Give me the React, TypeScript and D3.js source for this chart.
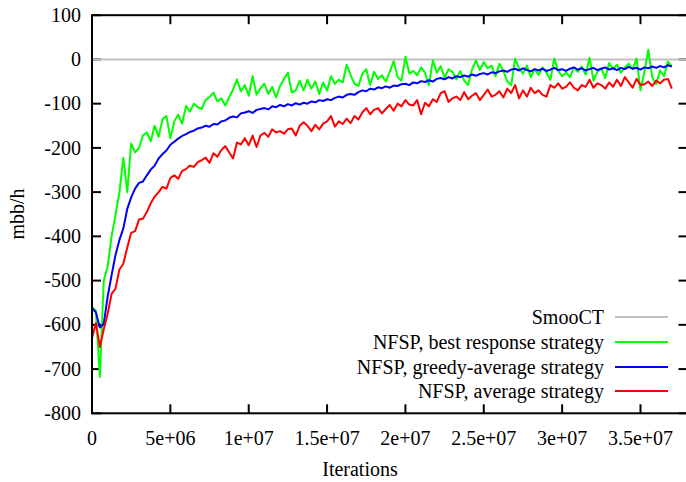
import React, { useEffect, useRef } from "react";
import * as d3 from "d3";

// sampling grid: one point every 250k iterations
const iterStep = 250000;

// NFSP, best response strategy (green)
const bestResponse = [
  -560, -568, -718, -500, -468, -400, -352, -300, -222, -300,
  -190, -210, -200, -172, -165, -185, -150, -175, -135, -128,
  -178, -140, -125, -145, -105, -118, -100, -108, -112,
  -92, -85, -75, -95, -88, -104, -86, -68, -45, -72, -58,
  -82, -38, -80, -65, -55, -78, -62, -86, -60, -44, -30, -75, -70,
  -48, -70, -46,
  -66, -50, -78, -52, -70, -38, -55, -46, -52, -12, -35, -55, -60,
  -32, -22, -58, -28, -44, -36, -50, -28, -4, -40, -48, 6, -32,
  -26, -36, -18, -30, -58, -2, -30, -15, -42, -22, -28, -45, -26, -48,
  -58, -22, -2, -24, -6, -20, -14, -38, -10, -26, -50, -58, 2, -20,
  -32, -14, -40, -22, -35, -18, -30, -46, 2, -26,
  -38, -30, -40, -18, -28, -16, -34, 4, -48, -28,
  -20, -42, -8, -22, -12, -30, -18, -10, -22, 2,
  -70, -28, 22, -40, -56, -25, -38, -5, -15,
];

// NFSP, greedy-average strategy (blue)
const greedyAverage = [
  -562, -572, -606, -598, -536, -488, -442, -408, -382, -338,
  -312, -292, -279, -276, -262, -249, -240, -224, -214, -206,
  -193, -186, -179, -173, -169, -164, -161, -156, -154, -150,
  -152, -146, -147, -140, -138, -132, -129, -131, -122, -120,
  -117, -121, -114, -112, -110, -113, -106, -108, -103, -106,
  -101, -104, -99, -102, -98, -100, -95, -97, -92, -94,
  -90, -92, -87, -84, -86, -80, -78, -80, -74, -70,
  -72, -66, -68, -63, -65, -61, -64, -59, -60, -56,
  -55, -58, -52, -54, -49, -51, -47, -50, -44, -42,
  -45, -40, -43, -38, -40, -36, -39, -34, -37, -33,
  -31, -34, -29, -31, -27, -25, -28, -23, -21, -25,
  -20, -24, -27, -22, -25, -21, -26, -23, -19, -24,
  -22, -26, -21, -18, -23, -20, -25, -22, -19, -24,
  -21, -18, -23, -20, -24, -19, -22, -17, -21, -19,
  -23, -18, -20, -16, -19, -15, -18, -13, -16,
];

// NFSP, average strategy (red)
const averageStrategy = [
  -630, -596, -650, -610, -575, -530, -518, -475, -462, -425,
  -392, -388, -362, -360, -345, -325, -310, -300, -288, -292,
  -268, -262, -270, -252, -248, -240, -243, -232,
  -228, -222, -234, -212, -220, -205, -196, -210, -224, -188,
  -192, -178, -194, -172, -198, -172, -166, -175, -158, -165,
  -162, -168, -158, -156, -172, -150, -142,
  -150, -162, -148, -158, -145, -140, -128, -152, -140, -146,
  -134, -144, -128, -136, -120, -110, -124, -114, -110, -122,
  -112, -103, -116, -100, -106, -92, -102,
  -104, -92, -124, -98, -106, -90, -96, -76, -72, -96,
  -88, -84, -92, -74, -90, -82, -76, -92, -80, -68,
  -84, -80, -72, -86, -66, -76, -58,
  -88, -70, -84, -64, -76, -70, -80, -84, -58, -64,
  -54, -66, -62, -52, -64, -70, -58, -62, -46, -64, -54,
  -58, -66, -52, -62, -46, -60, -40, -52, -64, -44,
  -58, -56, -50, -60, -48, -54, -46, -44, -66,
];

// SmooCT reference level
const smooctLevel = 0;

const yTicks = [100, 0, -100, -200, -300, -400, -500, -600, -700, -800];
const xTicks = [0, 5e6, 1e7, 1.5e7, 2e7, 2.5e7, 3e7, 3.5e7];
const xTickLabels = ["0", "5e+06", "1e+07", "1.5e+07", "2e+07", "2.5e+07", "3e+07", "3.5e+07"];

const legendNames = [
  "SmooCT",
  "NFSP, best response strategy",
  "NFSP, greedy-average strategy",
  "NFSP, average strategy",
];
const legendColors = ["#c0c0c0", "#00ff00", "#0000ff", "#ff0000"];

const FONT = "'Liberation Serif', 'Times New Roman', serif";

const App = () => {
  const ref = useRef<SVGSVGElement | null>(null);

  useEffect(() => {
    const width = 686;
    const height = 482;
    const left = 92;
    const right = 687.5;
    const top = 15.2;
    const bottom = 413.3;

    const svg = d3.select(ref.current);
    svg.selectAll("*").remove();

    const x = d3.scaleLinear().domain([0, 3.8e7]).range([left, right]);
    const y = d3.scaleLinear().domain([-800, 100]).range([bottom, top]);

    svg.attr("width", width).attr("height", height);

    // ticks (inward, mirrored)
    const ticks = svg.append("g").attr("stroke", "#000").attr("stroke-width", 2);
    yTicks.forEach((t) => {
      ticks.append("line").attr("x1", left).attr("x2", left + 9).attr("y1", y(t)).attr("y2", y(t));
      ticks.append("line").attr("x1", right).attr("x2", right - 9).attr("y1", y(t)).attr("y2", y(t));
    });
    xTicks.forEach((t) => {
      ticks.append("line").attr("x1", x(t)).attr("x2", x(t)).attr("y1", bottom).attr("y2", bottom - 9);
      ticks.append("line").attr("x1", x(t)).attr("x2", x(t)).attr("y1", top).attr("y2", top + 9);
    });

    // tick labels
    svg
      .append("g")
      .selectAll("text")
      .data(yTicks)
      .join("text")
      .attr("x", left - 11)
      .attr("y", (d) => y(d))
      .attr("dy", "0.33em")
      .attr("text-anchor", "end")
      .attr("font-family", FONT)
      .attr("font-size", 20)
      .text((d) => String(d));

    svg
      .append("g")
      .selectAll("text")
      .data(xTicks)
      .join("text")
      .attr("x", (d) => x(d))
      .attr("y", 445)
      .attr("text-anchor", "middle")
      .attr("font-family", FONT)
      .attr("font-size", 20)
      .text((d, i) => xTickLabels[i]);

    // axis titles
    svg
      .append("text")
      .attr("x", 360)
      .attr("y", 476)
      .attr("text-anchor", "middle")
      .attr("font-family", FONT)
      .attr("font-size", 20)
      .text("Iterations");

    svg
      .append("text")
      .attr("transform", "translate(24,214) rotate(-90)")
      .attr("text-anchor", "middle")
      .attr("font-family", FONT)
      .attr("font-size", 20)
      .text("mbb/h");

    // SmooCT level
    svg
      .append("line")
      .attr("x1", left)
      .attr("x2", right)
      .attr("y1", y(smooctLevel))
      .attr("y2", y(smooctLevel))
      .attr("stroke", legendColors[0])
      .attr("stroke-width", 2);

    const line = d3
      .line<number>()
      .x((d, i) => x(i * iterStep))
      .y((d) => y(d));

    const series = [bestResponse, greedyAverage, averageStrategy];
    series.forEach((s, k) => {
      svg
        .append("path")
        .attr("d", line(s))
        .attr("fill", "none")
        .attr("stroke", legendColors[k + 1])
        .attr("stroke-width", 2)
        .attr("stroke-linejoin", "round");
    });

    // legend
    const legendY = [317, 342, 367, 391];
    legendNames.forEach((name, i) => {
      svg
        .append("text")
        .attr("x", 604)
        .attr("y", legendY[i])
        .attr("dy", "0.33em")
        .attr("text-anchor", "end")
        .attr("font-family", FONT)
        .attr("font-size", 20)
        .text(name);
      svg
        .append("line")
        .attr("x1", 615)
        .attr("x2", 668)
        .attr("y1", legendY[i])
        .attr("y2", legendY[i])
        .attr("stroke", legendColors[i])
        .attr("stroke-width", 2);
    });

    // border
    svg
      .append("rect")
      .attr("x", left)
      .attr("y", top)
      .attr("width", right - left)
      .attr("height", bottom - top)
      .attr("fill", "none")
      .attr("stroke", "#000")
      .attr("stroke-width", 2);
  }, []);

  return (
    <div style={{ position: "absolute", left: 0, top: 0 }}>
      <svg ref={ref} style={{ display: "block", background: "#fff" }}></svg>
    </div>
  );
};

export default App;
